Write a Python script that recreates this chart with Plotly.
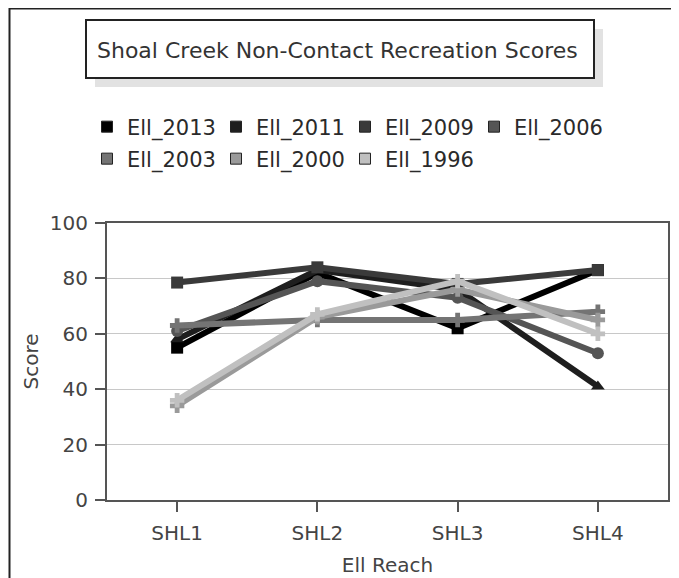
import plotly.graph_objects as go

reaches = ["SHL1", "SHL2", "SHL3", "SHL4"]
series_names = ["Ell_2013", "Ell_2011", "Ell_2009", "Ell_2006", "Ell_2003", "Ell_2000", "Ell_1996"]
ell_2013 = [55, 82, 62, 83]
ell_2011 = [58, 83, 76, 41]
ell_2009 = [78.5, 84, 78, 83]
ell_2006 = [61, 79, 73, 53]
ell_2003 = [63, 65, 65, 68]
ell_2000 = [34, 66, 76, 65]
ell_1996 = [36, 67, 79, 60]
y_ticks = [0, 20, 40, 60, 80, 100]

values = [ell_2013, ell_2011, ell_2009, ell_2006, ell_2003, ell_2000, ell_1996]
colors = ["#000000", "#1e1e1e", "#3a3a3a", "#555555", "#747474", "#9a9a9a", "#c0c0c0"]
symbols = ["square", "triangle-up", "square", "circle", "cross", "cross", "cross"]

FONT = "DejaVu Sans"
W, H = 679, 578
# page body has an 8px margin; positions below are figure coordinates
L, R, T, B = 99, 19, 215, 86
PW, PH = W - L - R, H - T - B

def px(x):
    return (x - L) / PW

def py(y):
    return (H - B - y) / PH

fig = go.Figure()
for name, vals, col, sym in zip(series_names, values, colors, symbols):
    fig.add_trace(go.Scatter(
        x=reaches, y=vals, mode="lines+markers", name=name, showlegend=False,
        line=dict(color=col, width=6),
        marker=dict(symbol=sym, size=12, color=col),
        cliponaxis=False,
    ))

for i, (name, col) in enumerate(zip(series_names, colors)):
    fig.add_trace(go.Scatter(
        x=[None], y=[None], mode="markers", name=name,
        marker=dict(symbol="square", size=11, color=col, line=dict(color="#222222", width=1)),
        legend="legend" if i < 4 else "legend2",
    ))

shapes = [
    # outer frame
    dict(type="line", xref="paper", yref="paper", x0=px(1.5), x1=px(1.5), y0=py(0), y1=py(H), line=dict(color="#222222", width=2)),
    dict(type="line", xref="paper", yref="paper", x0=px(1), x1=px(669), y0=py(0.5), y1=py(0.5), line=dict(color="#222222", width=2)),
    dict(type="line", xref="paper", yref="paper", x0=px(669), x1=px(669), y0=py(0), y1=py(H), line=dict(color="#bbbbbb", width=1)),
    # title box shadow and box
    dict(type="rect", xref="paper", yref="paper", x0=px(87), x1=px(595), y0=py(21), y1=py(79), line=dict(width=0), fillcolor="#e2e2e2"),
    dict(type="rect", xref="paper", yref="paper", x0=px(78), x1=px(586), y0=py(12), y1=py(70), line=dict(color="#222222", width=2), fillcolor="#ffffff"),
]

fig.update_layout(
    width=W, height=H,
    margin=dict(l=L, r=R, t=T, b=B),
    paper_bgcolor="#ffffff", plot_bgcolor="#ffffff",
    font=dict(family=FONT, size=20, color="#444444"),
    shapes=shapes,
    annotations=[dict(text="Shoal Creek Non-Contact Recreation Scores", xref="paper", yref="paper",
                      x=px(329), y=py(42), xanchor="center", yanchor="middle", showarrow=False,
                      font=dict(family=FONT, size=22, color="#333333"))],
    legend=dict(orientation="h", x=px(79), y=py(119), xanchor="left", yanchor="middle",
                font=dict(family=FONT, size=21, color="#2a2a2a"), entrywidth=84, entrywidthmode="pixels",
                bgcolor="rgba(0,0,0,0)", itemclick=False),
    legend2=dict(orientation="h", x=px(79), y=py(151), xanchor="left", yanchor="middle",
                 font=dict(family=FONT, size=21, color="#2a2a2a"), entrywidth=84, entrywidthmode="pixels",
                 bgcolor="rgba(0,0,0,0)", itemclick=False),
    xaxis=dict(type="category", range=[-0.5, 3.5], showgrid=False, showline=True, linecolor="#555555",
               linewidth=2, mirror=True, ticks="outside", ticklen=10, tickwidth=2, tickcolor="#555555",
               ticklabelstandoff=4, tickfont=dict(size=20, color="#444444"),
               title=dict(text="Ell Reach", font=dict(size=20, color="#444444"), standoff=14)),
    yaxis=dict(range=[0, 100], tickvals=y_ticks, showgrid=True, gridcolor="#c8c8c8", gridwidth=1,
               showline=True, linecolor="#555555", linewidth=2, mirror=True, ticks="outside", ticklen=10,
               tickwidth=2, tickcolor="#555555", ticklabelstandoff=3, zeroline=False,
               tickfont=dict(size=20, color="#444444"),
               title=dict(text="Score", font=dict(size=20, color="#444444"), standoff=6)),
)

fig.write_html("out.html")
